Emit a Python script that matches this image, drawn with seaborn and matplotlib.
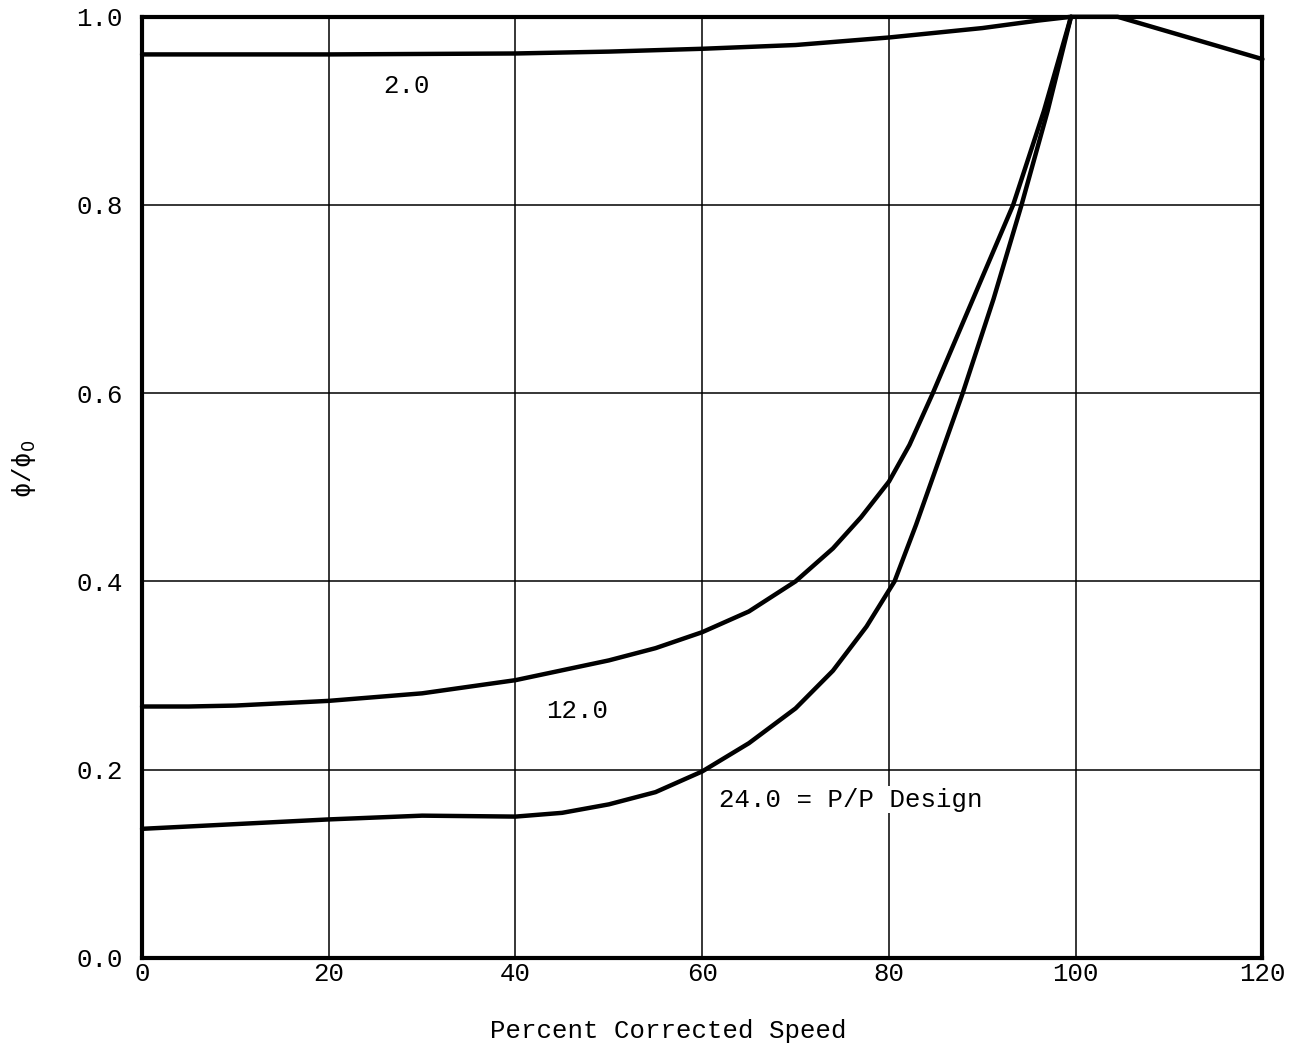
import matplotlib
matplotlib.use('Agg')
import matplotlib.pyplot as plt
import seaborn as sns
import pandas as pd

# curve readings: percent corrected speed vs phi/phi0
x_2 = [0, 20, 40, 50, 60, 70, 80, 90, 96, 99.5, 104.5, 120]
y_2 = [0.960, 0.960, 0.961, 0.963, 0.966, 0.970, 0.978, 0.988, 0.996, 1.0, 1.0, 0.955]

x_12 = [0, 5, 10, 20, 30, 40, 50, 55, 60, 65, 70, 74, 77, 80, 82.2, 84.7, 89, 93.3, 96.6, 99.5]
y_12 = [0.267, 0.267, 0.268, 0.273, 0.281, 0.295, 0.316, 0.329, 0.346, 0.368, 0.400,
        0.435, 0.468, 0.506, 0.545, 0.600, 0.700, 0.800, 0.900, 1.0]

x_24 = [0, 10, 20, 30, 40, 45, 50, 55, 60, 65, 70, 74, 77.6, 80.6, 82.9, 85.4, 87.9, 91.2,
        94.2, 97, 99.5]
y_24 = [0.137, 0.142, 0.147, 0.151, 0.150, 0.154, 0.163, 0.176, 0.198, 0.228, 0.265,
        0.305, 0.352, 0.400, 0.460, 0.530, 0.600, 0.700, 0.800, 0.900, 1.0]

x_ticks = [0, 20, 40, 60, 80, 100, 120]
y_ticks = [0.0, 0.2, 0.4, 0.6, 0.8, 1.0]

sns.set_theme(style="whitegrid")
plt.rcParams['font.family'] = ['Liberation Mono', 'DejaVu Sans']
plt.rcParams['mathtext.fontset'] = 'dejavusans'
plt.rcParams['text.color'] = 'black'

fs = 18.5
fig = plt.figure(figsize=(13.15, 10.49), dpi=100)
ax = fig.add_axes([0.108, 0.087, 0.852, 0.897])
ax.set_facecolor('white')

for xs, ys in [(x_2, y_2), (x_12, y_12), (x_24, y_24)]:
    df = pd.DataFrame({'x': xs, 'y': ys})
    sns.lineplot(data=df, x='x', y='y', ax=ax, color='black', linewidth=3.2,
                 sort=False, clip_on=False, zorder=3)

ax.set_xlim(0, 120)
ax.set_ylim(0, 1.0)
ax.set_xticks(x_ticks)
ax.set_yticks(y_ticks)
ax.set_xticklabels([str(t) for t in x_ticks])
ax.set_yticklabels(['%.1f' % t for t in y_ticks])
ax.tick_params(axis='both', length=0, labelsize=fs, colors='black')
ax.tick_params(axis='x', pad=3)
ax.tick_params(axis='y', pad=14)
ax.grid(True, color='black', linewidth=1.1)
for s in ax.spines.values():
    s.set_color('black')
    s.set_linewidth(3)

ax.set_xlabel('Percent Corrected Speed', fontsize=fs, color='black')
ax.xaxis.set_label_coords(0.47, -0.065)
ax.set_ylabel('ϕ/ϕ$_0$', fontsize=fs, color='black')
ax.yaxis.set_label_coords(-0.093, 0.52)

ax.text(28.3, 0.926, '2.0', fontsize=fs, ha='center', va='center')
ax.text(46.6, 0.262, '12.0', fontsize=fs, ha='center', va='center',
        bbox=dict(facecolor='white', edgecolor='none', pad=1))
ax.text(61.8, 0.168, '24.0 = P/P Design', fontsize=fs, ha='left', va='center',
        bbox=dict(facecolor='white', edgecolor='none', pad=1))

fig.savefig('out.png', dpi=100)
